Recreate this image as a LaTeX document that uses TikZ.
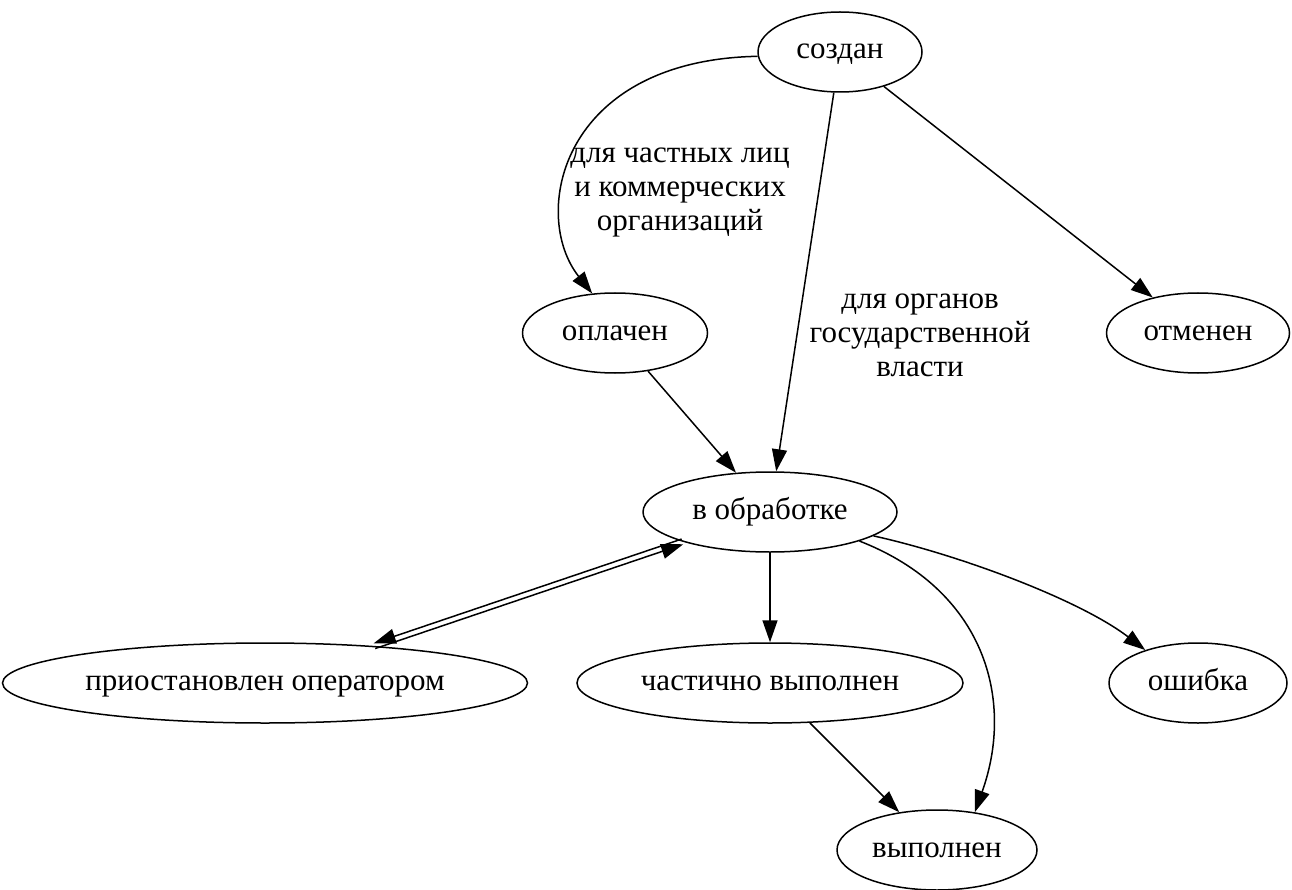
\documentclass[tikz,border=0pt]{standalone}
\usepackage{fontspec}
\setmainfont{Liberation Serif}
\usetikzlibrary{shapes.geometric,arrows.meta}
\begin{document}
\begin{tikzpicture}[x=1pt,y=-1pt,
  st/.style={draw,ellipse,line width=1.5pt,inner sep=0pt,minimum height=80pt,text height=22pt,text depth=8pt,font=\fontsize{31}{34}\selectfont},
  arr/.style={line width=1.5pt,-{Triangle[length=22pt,width=15pt]}},
  lbl/.style={align=center,font=\fontsize{31}{34}\selectfont}]
\useasboundingbox (0,0) rectangle (1292,890);
\node[st,minimum width=164pt] (created) at (840,52) {создан};
\node[st,minimum width=185pt] (paid) at (615,333) {оплачен};
\node[st,minimum width=183pt] (cancel) at (1198,333) {отменен};
\node[st,minimum width=254pt] (proc) at (770,512) {в обработке};
\node[st,minimum width=525pt] (susp) at (265,683) {приостановлен оператором};
\node[st,minimum width=386pt] (part) at (770,683) {частично выполнен};
\node[st,minimum width=178pt] (err) at (1198,683) {ошибка};
\node[st,minimum width=200pt] (done) at (937,850) {выполнен};

\node[lbl] (l1) at (680,192) {для частных лиц\\и коммерческих\\организаций};
\node[lbl] (l2) at (920,335) {для органов\\государственной\\власти};

\draw[arr] (created.183) .. controls (560,60) and (530,215) .. (paid.120);
\draw[arr] (created) -- (proc);
\draw[arr] (created) -- (cancel);
\draw[arr] (paid) -- (proc);
\draw[arr,transform canvas={shift={(-0.8pt,2.6pt)}}] (proc) -- (susp);
\draw[arr,transform canvas={shift={(0.8pt,-2.6pt)}}] (susp) -- (proc);
\draw[arr] (proc) -- (part);
\draw[arr] (proc.-18) .. controls (985,590) and (1015,700) .. (done.45);
\draw[arr] (proc.-13) .. controls (960,555) and (1080,600) .. (err.148);
\draw[arr] (part) -- (done);
\end{tikzpicture}
\end{document}
